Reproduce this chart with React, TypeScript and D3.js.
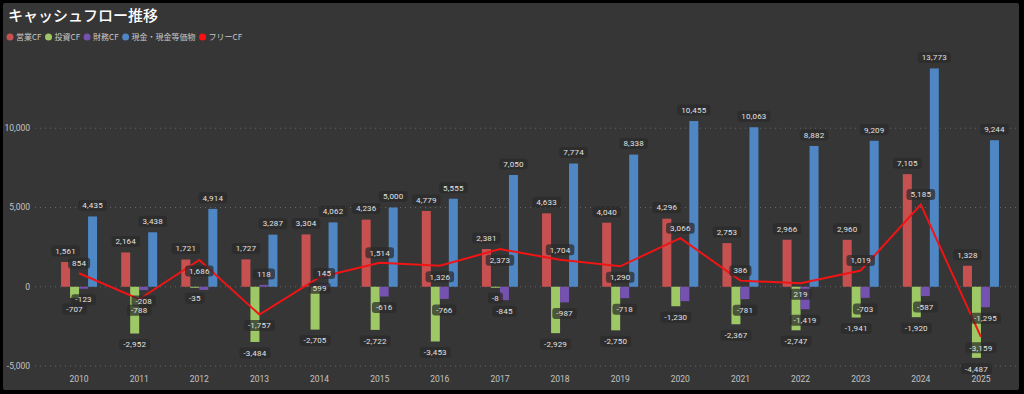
import React, { useEffect, useRef } from 'react';
import * as d3 from 'd3';

const years = ['2010', '2011', '2012', '2013', '2014', '2015', '2016', '2017', '2018', '2019', '2020', '2021', '2022', '2023', '2024', '2025'];
const operatingCF = [1561, 2164, 1721, 1727, 3304, 4236, 4779, 2381, 4633, 4040, 4296, 2753, 2966, 2960, 7105, 1328];
const investingCF = [-707, -2952, -35, -3484, -2705, -2722, -3453, -8, -2929, -2750, -1230, -2367, -2747, -1941, -1920, -4487];
const financingCF = [-123, -208, -200, 118, 145, -616, -766, -845, -987, -718, -910, -781, -1419, -703, -587, -1295];
const cashEq = [4435, 3438, 4914, 3287, 4062, 5000, 5555, 7050, 7774, 8338, 10455, 10063, 8882, 9209, 13773, 9244];
const freeCF = [854, -788, 1686, -1757, 599, 1514, 1326, 2373, 1704, 1290, 3066, 386, 219, 1019, 5185, -3159];
const yTicks = [-5000, 0, 5000, 10000];

const barSeries = [
  { key: 'op', name: '営業CF', color: '#c65150', values: operatingCF },
  { key: 'inv', name: '投資CF', color: '#9ec766', values: investingCF },
  { key: 'fin', name: '財務CF', color: '#7552af', values: financingCF },
  { key: 'cash', name: '現金・現金等価物', color: '#4f86c4', values: cashEq },
];
const lineColor = '#f21414';

// labels the chart hides (overlaps) and free CF labels drawn under the point
const hiddenLabels = new Set(['fin-2012', 'fin-2020']);
const freeBelow = new Set(['2011', '2012', '2013', '2014', '2016', '2017', '2019', '2022', '2025']);

export default function App() {
  const svgRef = useRef<SVGSVGElement>(null);

  useEffect(() => {
    const width = 1024;
    const height = 394;
    const svg = d3.select(svgRef.current);
    svg.selectAll('*').remove();
    svg.attr('width', width).attr('height', height);

    svg.append('rect').attr('width', width).attr('height', height).attr('fill', '#000');
    svg.append('rect')
      .attr('x', 3).attr('y', 3)
      .attr('width', 1016).attr('height', 387)
      .attr('rx', 2)
      .attr('fill', '#363636');

    // title + legend
    svg.append('text')
      .attr('x', 8).attr('y', 21)
      .attr('fill', '#ffffff')
      .style('font-family', '"Noto Sans CJK JP", sans-serif')
      .style('font-size', '15px')
      .style('font-weight', 500)
      .text('キャッシュフロー推移');

    const legendItems = [
      ...barSeries.map(s => ({ name: s.name, color: s.color })),
      { name: 'フリーCF', color: '#ff1010' },
    ];
    let lx = 10;
    legendItems.forEach(item => {
      svg.append('circle').attr('cx', lx).attr('cy', 37).attr('r', 3.5).attr('fill', item.color);
      const t = svg.append('text')
        .attr('x', lx + 6).attr('y', 37).attr('dy', '0.35em')
        .attr('fill', '#c8c8c8')
        .style('font-family', '"Noto Sans CJK JP", sans-serif')
        .style('font-size', '8px')
        .text(item.name);
      const w = (t.node() as SVGTextElement).getComputedTextLength();
      lx += 6 + w + 7;
    });

    // scales
    const x = d3.scaleBand().domain(years).range([49, 1011]);
    const inner = d3.scaleBand().domain(barSeries.map(s => s.key)).range([-18, 18]);
    const y = d3.scaleLinear().domain([-5000, 15000]).range([366, 49]);
    const fmt = d3.formatLocale({ decimal: '.', thousands: ',', grouping: [3], currency: ['', ''], minus: '-' }).format(',');
    const cx = (yr: string) => (x(yr) as number) + x.bandwidth() / 2;

    // grid + y labels
    const grid = svg.append('g');
    yTicks.forEach(t => {
      grid.append('line')
        .attr('x1', 35).attr('x2', 1016)
        .attr('y1', y(t)).attr('y2', y(t))
        .attr('stroke', '#666')
        .attr('stroke-width', 1)
        .attr('stroke-dasharray', '1,4');
      grid.append('text')
        .attr('x', 30).attr('y', y(t)).attr('dy', '0.35em')
        .attr('text-anchor', 'end')
        .attr('fill', '#c4c4c4')
        .style('font-family', 'Roboto, sans-serif')
        .style('font-size', '8.5px')
        .text(fmt(t));
    });

    // x labels
    years.forEach(yr => {
      svg.append('text')
        .attr('x', cx(yr)).attr('y', 379).attr('dy', '0.35em')
        .attr('text-anchor', 'middle')
        .attr('fill', '#c4c4c4')
        .style('font-family', 'Roboto, sans-serif')
        .style('font-size', '8.5px')
        .text(yr);
    });

    // bars
    const bars = svg.append('g');
    barSeries.forEach(s => {
      s.values.forEach((v, i) => {
        const bx = cx(years[i]) + (inner(s.key) as number);
        bars.append('rect')
          .attr('x', bx)
          .attr('y', y(Math.max(0, v)))
          .attr('width', inner.bandwidth())
          .attr('height', Math.max(1, Math.abs(y(v) - y(0))))
          .attr('fill', s.color);
      });
    });

    // free CF line
    const line = d3.line<number>()
      .x((_, i) => cx(years[i]))
      .y(d => y(d));
    svg.append('path')
      .datum(freeCF)
      .attr('fill', 'none')
      .attr('stroke', lineColor)
      .attr('stroke-width', 2)
      .attr('d', line);

    // data labels
    const labels = svg.append('g');
    const addLabel = (lxp: number, lyp: number, text: string) => {
      const g = labels.append('g');
      const t = g.append('text')
        .attr('x', lxp).attr('y', lyp).attr('dy', '0.35em')
        .attr('text-anchor', 'middle')
        .attr('fill', '#e2e2e2')
        .style('font-family', 'Roboto, sans-serif')
        .style('font-size', '8px')
        .style('letter-spacing', '0.2px')
        .text(text);
      const w = (t.node() as SVGTextElement).getComputedTextLength();
      g.insert('rect', 'text')
        .attr('x', lxp - w / 2 - 4)
        .attr('y', lyp - 5.5)
        .attr('width', w + 8)
        .attr('height', 11)
        .attr('rx', 3)
        .attr('fill', '#2a2a2a')
        .attr('fill-opacity', 0.72);
    };

    barSeries.forEach(s => {
      s.values.forEach((v, i) => {
        if (hiddenLabels.has(`${s.key}-${years[i]}`)) return;
        const bx = cx(years[i]) + (inner(s.key) as number) + inner.bandwidth() / 2;
        const ly = v >= 0 ? y(v) - 11 : y(v) + 11;
        addLabel(bx, ly, fmt(v));
      });
    });

    freeCF.forEach((v, i) => {
      const ly = freeBelow.has(years[i]) ? y(v) + 11 : y(v) - 10;
      addLabel(cx(years[i]), ly, fmt(v));
    });
  }, []);

  return (
    <div style={{ position: 'absolute', left: 0, top: 0 }}>
      <svg ref={svgRef} style={{ display: 'block' }}></svg>
    </div>
  );
}
